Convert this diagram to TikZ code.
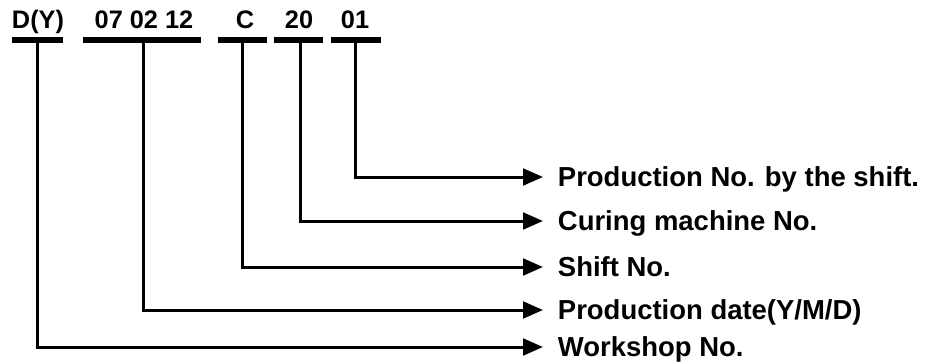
\documentclass[tikz,border=0pt]{standalone}
\usepackage{fontspec}
\setmainfont{Liberation Sans}
\usetikzlibrary{arrows.meta,positioning}

\begin{document}
\begin{tikzpicture}[
  x=0.75pt,y=-0.75pt,
  code/.style={font=\bfseries\fontsize{19}{19}\selectfont,anchor=base,inner sep=0pt},
  bar/.style={line width=4.5pt},
  desc/.style={font=\bfseries\fontsize{20.6}{21}\selectfont,anchor=west,inner xsep=11pt,inner ysep=0pt,text height=14.75pt,text depth=0pt},
  link/.style={-{Triangle[length=15pt,width=12.5pt]},line width=2.25pt}
]
\useasboundingbox (0,0) rectangle (928,364);
% code fields on top
\node[code] (ws) at (38,28) {D(Y)};
\node[code] (date) at (144,28) {07 02 12};
\node[code] (shift) at (245,28) {C};
\node[code] (mach) at (299,28) {20};
\node[code] (prod) at (355,28) {01};
% underline bars
\draw[bar] (12,40) -- (63,40);
\draw[bar] (83,40) -- (201,40);
\draw[bar] (218,40) -- (267,40);
\draw[bar] (274,40) -- (323,40);
\draw[bar] (331,40) -- (381,40);
\coordinate (wsbar) at (37,40);
\coordinate (datebar) at (143,40);
\coordinate (shiftbar) at (242,40);
\coordinate (machbar) at (300,40);
\coordinate (prodbar) at (355,40);
% meanings
\node[desc] (proddesc) at (543,177) {Production No. by the shift.};
\node[desc] (machdesc) at (543,221) {Curing machine No.};
\node[desc] (shiftdesc) at (543,267) {Shift No.};
\node[desc] (datedesc) at (543,310) {Production date(Y/M/D)};
\node[desc] (wsdesc) at (543,347) {Workshop No.};
\draw[link] (prodbar) |- (proddesc.west);
\draw[link] (machbar) |- (machdesc.west);
\draw[link] (shiftbar) |- (shiftdesc.west);
\draw[link] (datebar) |- (datedesc.west);
\draw[link] (wsbar) |- (wsdesc.west);
\end{tikzpicture}
\end{document}
